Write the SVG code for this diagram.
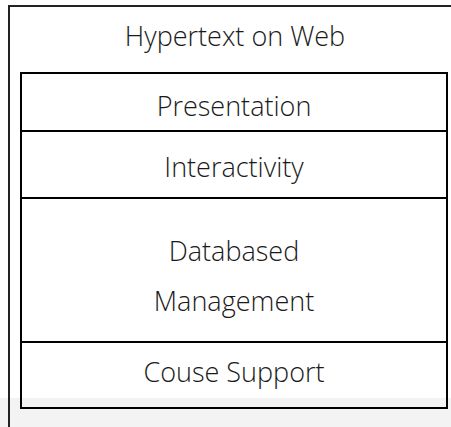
<svg xmlns="http://www.w3.org/2000/svg" width="451" height="427" viewBox="0 0 451 427">
<style>
.t{font-family:"Open Sans","Noto Sans",sans-serif;font-size:27px;font-weight:300;fill:#1a1a1a;text-anchor:middle}
.box{fill:none;stroke:#000;stroke-width:2}
.frame{fill:none;stroke:#222;stroke-width:2}
</style>
<rect x="0" y="0" width="451" height="427" fill="#fff"/>
<rect x="0" y="398" width="451" height="29" fill="#f3f3f3"/>
<g id="frame">
<path class="frame" d="M9 427 V6 H451"/>
<text class="t" x="235" y="46">Hypertext on Web</text>
</g>
<g id="presentation">
<rect class="box" x="21" y="73" width="426" height="58"/>
<text class="t" x="234" y="116">Presentation</text>
</g>
<g id="interactivity">
<rect class="box" x="21" y="131" width="426" height="67"/>
<text class="t" x="234" y="177">Interactivity</text>
</g>
<g id="database">
<rect class="box" x="21" y="198" width="426" height="144"/>
<text class="t" x="234" y="261">Databased</text>
<text class="t" x="234" y="311">Management</text>
</g>
<g id="course">
<rect class="box" x="21" y="342" width="426" height="66"/>
<text class="t" x="234" y="382">Couse Support</text>
</g>
<g id="connectors"></g>
</svg>
